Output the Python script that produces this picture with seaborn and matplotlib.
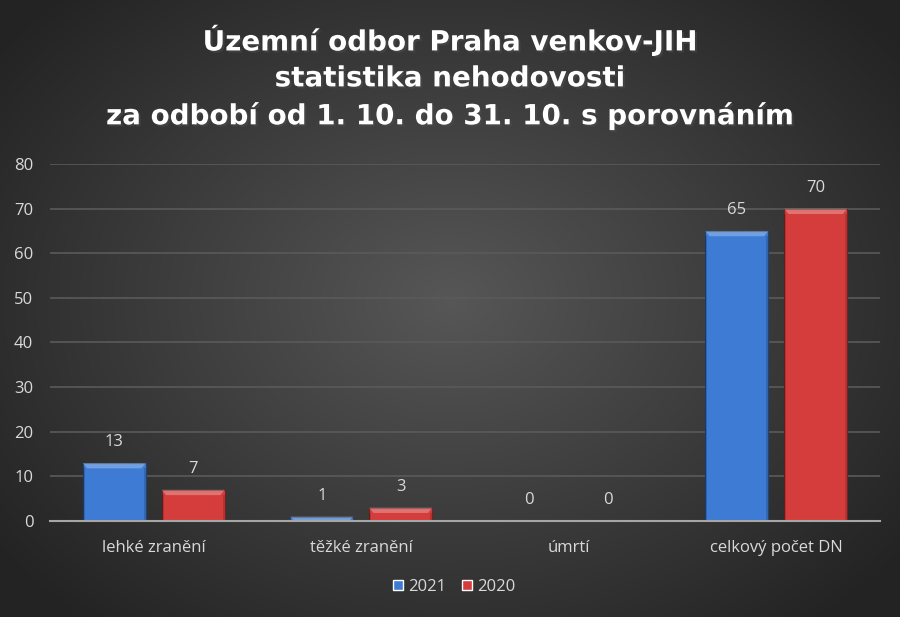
import numpy as np
import pandas as pd
import matplotlib
matplotlib.use("Agg")
import matplotlib.pyplot as plt
import matplotlib.patheffects as pe
import seaborn as sns
from matplotlib.patches import Polygon

categories = ["lehké zranění", "těžké zranění", "úmrtí", "celkový počet DN"]
years = ["2021", "2020"]
values_2021 = [13, 1, 0, 65]
values_2020 = [7, 3, 0, 70]
title_lines = ["Územní odbor Praha venkov-JIH", "statistika nehodovosti",
               "za odbobí od 1. 10. do 31. 10. s porovnáním"]
yticks = [0, 10, 20, 30, 40, 50, 60, 70, 80]

df = pd.DataFrame({
    "kategorie": categories * 2,
    "rok": [years[0]] * 4 + [years[1]] * 4,
    "hodnota": values_2021 + values_2020,
})

sns.set_theme(style="dark")
plt.rcParams['font.family'] = ['Open Sans', 'DejaVu Sans']
txt = "#d9d9d9"
palette = {"2021": "#3d7bd5", "2020": "#d53d3d"}

fig = plt.figure(figsize=(9, 6.17), dpi=100)
# radial gradient background
bg = fig.add_axes([0, 0, 1, 1], zorder=-10)
yy, xx = np.mgrid[0:617, 0:900]
r = np.sqrt(((xx - 450) / 560) ** 2 + ((yy - 300) / 420) ** 2)
r = np.clip(r, 0, 1)
c = 0.34 - 0.20 * r
bg.imshow(np.dstack([c, c, c]), aspect="auto", extent=[0, 1, 0, 1])
bg.axis("off")

ax = fig.add_axes([0.0556, 0.1556, 0.9222, 0.5786])
ax.set_facecolor("none")
sns.barplot(data=df, x="kategorie", y="hodnota", hue="rok", order=categories,
            hue_order=years, palette=palette, width=0.761, gap=0.2,
            saturation=1, ax=ax, legend=True, zorder=3)
ax.set_ylim(0, 80)
ax.set_yticks(yticks)
ax.set_xlim(-0.5, 3.5)
ax.grid(axis="y", color="#5a5a5a", linewidth=1.2, zorder=0)
ax.grid(axis="x", visible=False)
for s in ["top", "right", "left"]:
    ax.spines[s].set_visible(False)
ax.spines["bottom"].set_color("#a6a6a6")
ax.spines["bottom"].set_linewidth(1.5)
ax.spines["bottom"].set_zorder(5)
ax.tick_params(axis="both", colors=txt, labelsize=12, length=0)
ax.tick_params(axis="x", pad=14)
ax.tick_params(axis="y", pad=12)
ax.set_xlabel("")
ax.set_ylabel("")

# bevel highlight on bars
for cont, yr in zip(ax.containers, years):
    base = np.array(matplotlib.colors.to_rgb(palette[yr]))
    for p in cont.patches:
        x0, y0 = p.get_x(), p.get_y()
        w, h = p.get_width(), p.get_height()
        p.set_edgecolor(base * 0.55)
        p.set_linewidth(0.8)
        if h <= 0:
            continue
        bx = w * 0.07
        by = min(h, 1.2)
        top = Polygon([(x0, y0 + h), (x0 + w, y0 + h), (x0 + w - bx, y0 + h - by),
                       (x0 + bx, y0 + h - by)], closed=True, facecolor="white",
                      alpha=0.28, edgecolor="none", zorder=4)
        ax.add_patch(top)
        if h > 2 * by:
            for xs in [(x0, x0 + bx * 0.5), (x0 + w - bx * 0.5, x0 + w)]:
                side = Polygon([(xs[0], y0), (xs[1], y0), (xs[1], y0 + h - by),
                                (xs[0], y0 + h - by)], closed=True, facecolor="black",
                               alpha=0.15, edgecolor="none", zorder=4)
                ax.add_patch(side)
    ax.bar_label(cont, labels=[str(int(v.get_height())) for v in cont.patches],
                 padding=9, color=txt, fontsize=12)

leg = ax.legend(loc="upper center", bbox_to_anchor=(0.487, -0.12), ncol=2, frameon=False,
                handlelength=0.6, handleheight=0.6, handletextpad=0.3, columnspacing=1.0,
                fontsize=12)
for t in leg.get_texts():
    t.set_color(txt)

fig.text(0.5, 0.962, "\n".join(title_lines), ha="center", va="top", color="white",
         fontsize=20, fontweight="bold", linespacing=1.36, family="DejaVu Sans",
         path_effects=[pe.withSimplePatchShadow(offset=(1.5, -1.5), alpha=0.5)])

fig.savefig("out.png", dpi=100)
